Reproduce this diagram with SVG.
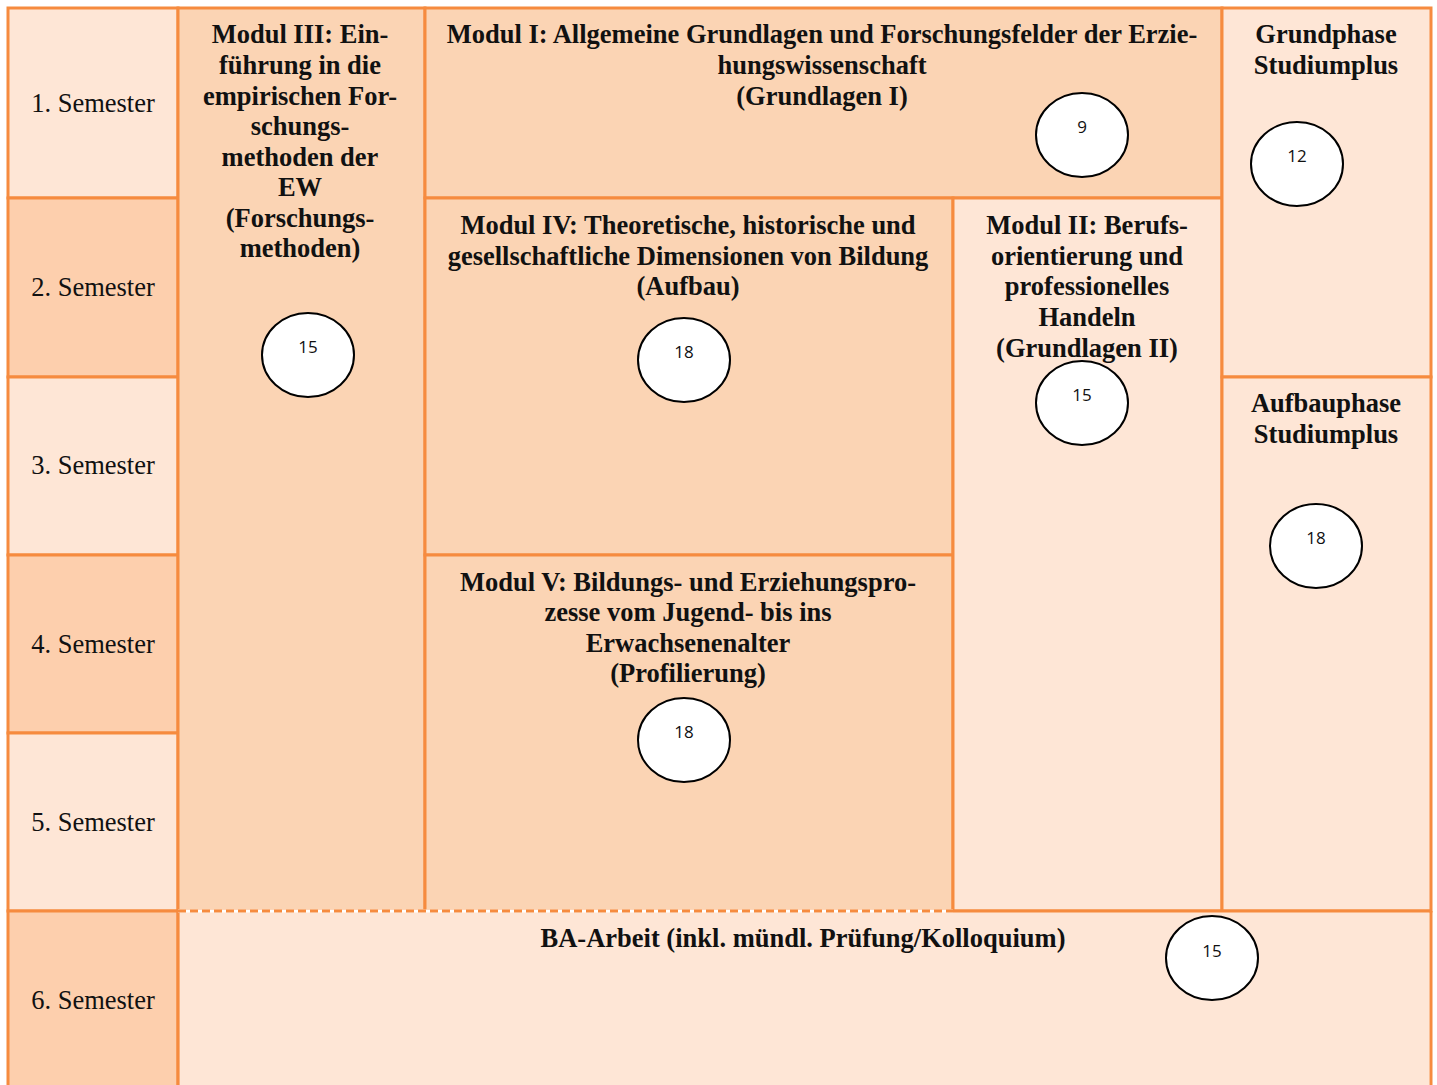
<svg xmlns="http://www.w3.org/2000/svg" width="1437" height="1085" viewBox="0 0 1437 1085">
<style>
.cell{stroke:#F68B3F;stroke-width:3}
.lt{fill:#FEE6D6}
.md{fill:#FBD4B4}
.dk{fill:#FDCFAD}
.sem{font-family:"Liberation Serif",serif;font-size:26.5px;fill:#111;text-anchor:middle}
.t{font-family:"Liberation Serif",serif;font-size:26.5px;font-weight:bold;fill:#111;text-anchor:middle}
.c{fill:#fff;stroke:#000;stroke-width:2}
.n{font-family:"Open Sans","Liberation Sans",sans-serif;font-size:17px;fill:#111;text-anchor:middle}
</style>
<rect x="0" y="0" width="1437" height="1085" fill="#fff"/>
<g id="semesters">
<rect class="cell lt" x="8" y="8" width="170" height="190"/>
<rect class="cell dk" x="8" y="198" width="170" height="179"/>
<rect class="cell lt" x="8" y="377" width="170" height="178"/>
<rect class="cell dk" x="8" y="555" width="170" height="178"/>
<rect class="cell lt" x="8" y="733" width="170" height="178"/>
<rect class="cell dk" x="8" y="911" width="170" height="180"/>
<text class="sem" x="93" y="112">1. Semester</text>
<text class="sem" x="93" y="296">2. Semester</text>
<text class="sem" x="93" y="474">3. Semester</text>
<text class="sem" x="93" y="653">4. Semester</text>
<text class="sem" x="93" y="831">5. Semester</text>
<text class="sem" x="93" y="1009">6. Semester</text>
</g>
<g id="modul3">
<rect class="cell md" x="178" y="8" width="247" height="903"/>
<text class="t"><tspan x="300" y="43">Modul III: Ein-</tspan><tspan x="300" y="74">führung in die</tspan><tspan x="300" y="105">empirischen For-</tspan><tspan x="300" y="135">schungs-</tspan><tspan x="300" y="166">methoden der</tspan><tspan x="300" y="196">EW</tspan><tspan x="300" y="227">(Forschungs-</tspan><tspan x="300" y="257">methoden)</tspan></text>
<ellipse class="c" cx="308" cy="355" rx="46" ry="42"/>
<text class="n" x="308" y="353">15</text>
</g>
<g id="modul1">
<rect class="cell md" x="425" y="8" width="797" height="190"/>
<text class="t"><tspan x="822" y="43">Modul I: Allgemeine Grundlagen und Forschungsfelder der Erzie-</tspan><tspan x="822" y="74">hungswissenschaft</tspan><tspan x="822" y="105">(Grundlagen I)</tspan></text>
<ellipse class="c" cx="1082" cy="135" rx="46" ry="42"/>
<text class="n" x="1082" y="133">9</text>
</g>
<g id="modul4">
<rect class="cell md" x="425" y="198" width="528" height="357"/>
<text class="t"><tspan x="688" y="234">Modul IV: Theoretische, historische und</tspan><tspan x="688" y="265">gesellschaftliche Dimensionen von Bildung</tspan><tspan x="688" y="295">(Aufbau)</tspan></text>
<ellipse class="c" cx="684" cy="360" rx="46" ry="42"/>
<text class="n" x="684" y="358">18</text>
</g>
<g id="modul5">
<rect class="cell md" x="425" y="555" width="528" height="356"/>
<text class="t"><tspan x="688" y="591">Modul V: Bildungs- und Erziehungspro-</tspan><tspan x="688" y="621">zesse vom Jugend- bis ins</tspan><tspan x="688" y="652">Erwachsenenalter</tspan><tspan x="688" y="682">(Profilierung)</tspan></text>
<ellipse class="c" cx="684" cy="740" rx="46" ry="42"/>
<text class="n" x="684" y="738">18</text>
</g>
<g id="modul2">
<rect class="cell lt" x="953" y="198" width="269" height="713"/>
<text class="t"><tspan x="1087" y="234">Modul II: Berufs-</tspan><tspan x="1087" y="265">orientierung und</tspan><tspan x="1087" y="295">professionelles</tspan><tspan x="1087" y="326">Handeln</tspan><tspan x="1087" y="357">(Grundlagen II)</tspan></text>
<ellipse class="c" cx="1082" cy="403" rx="46" ry="42"/>
<text class="n" x="1082" y="401">15</text>
</g>
<g id="grundphase">
<rect class="cell lt" x="1222" y="8" width="209" height="369"/>
<text class="t"><tspan x="1326" y="43">Grundphase</tspan><tspan x="1326" y="74">Studiumplus</tspan></text>
<ellipse class="c" cx="1297" cy="164" rx="46" ry="42"/>
<text class="n" x="1297" y="162">12</text>
</g>
<g id="aufbauphase">
<rect class="cell lt" x="1222" y="377" width="209" height="534"/>
<text class="t"><tspan x="1326" y="412">Aufbauphase</tspan><tspan x="1326" y="443">Studiumplus</tspan></text>
<ellipse class="c" cx="1316" cy="546" rx="46" ry="42"/>
<text class="n" x="1316" y="544">18</text>
</g>
<g id="ba">
<rect x="179.5" y="911" width="1250" height="180" class="lt"/>
<path d="M178 911V1091M1431 911V1091M953 911H1432" class="cell" fill="none"/>
<path d="M178 911H953" stroke="#fff" stroke-width="3"/>
<path d="M178 911H953" stroke="#F68B3F" stroke-width="3" stroke-dasharray="8 4"/>
<text class="t" x="803" y="947">BA-Arbeit (inkl. mündl. Prüfung/Kolloquium)</text>
<ellipse class="c" cx="1212" cy="958" rx="46" ry="42"/>
<text class="n" x="1212" y="957">15</text>
</g>
<g id="connectors"></g>
</svg>
